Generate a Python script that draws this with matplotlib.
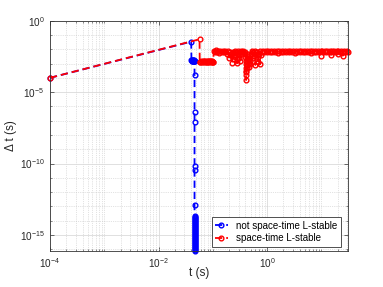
import matplotlib
matplotlib.use('Agg')
import matplotlib.pyplot as plt
from matplotlib.ticker import LogLocator, NullFormatter
import numpy as np

plt.rcParams['font.family'] = ['Liberation Sans', 'DejaVu Sans']
plt.rcParams['mathtext.default'] = 'regular'

# not space-time L-stable (blue)
blue_start_t = [1e-4, 0.0400]
blue_start_dt = [1e-4, 0.034]
blue_flat_t = [0.0405, 0.0410, 0.0415, 0.0420, 0.0425, 0.0430, 0.0435, 0.0440,
               0.0445, 0.0450, 0.0455, 0.0458, 0.0461]
blue_flat_dt = [1.7e-3, 1.5e-3, 1.65e-3, 1.55e-3, 1.7e-3, 1.5e-3, 1.6e-3, 1.7e-3,
                1.5e-3, 1.65e-3, 1.55e-3, 1.6e-3, 1.6e-3]
blue_drop_dt = [1.6e-4, 4.4e-7, 7.9e-8, 6.3e-11, 3.6e-11, 1.3e-13,
                2.0e-14, 1.7e-14, 1.45e-14, 1.25e-14, 1.05e-14, 9e-15, 7.7e-15, 6.5e-15,
                5.6e-15, 4.8e-15, 4.1e-15, 3.5e-15, 3.0e-15, 2.5e-15, 2.15e-15, 1.85e-15,
                1.6e-15, 1.35e-15, 1.15e-15, 9.8e-16, 8.4e-16, 7.2e-16, 6.1e-16, 5.2e-16,
                4.4e-16, 3.8e-16, 3.2e-16, 2.75e-16, 2.35e-16, 2.0e-16, 1.7e-16, 1.45e-16,
                1.25e-16, 1.05e-16, 9e-17, 8e-17]
blue_drop_t = [0.0461] * len(blue_drop_dt)

# space-time L-stable (red)
red_start_t = [1e-4, 0.057]
red_start_dt = [1e-4, 0.050]
red_flat_t = [0.0575, 0.059, 0.061, 0.063, 0.065, 0.067, 0.069, 0.071, 0.073, 0.075,
              0.077, 0.079, 0.081, 0.083, 0.085, 0.087, 0.089, 0.091, 0.093, 0.095,
              0.097, 0.099, 0.101]
red_flat_dt = [1.35e-3, 1.25e-3, 1.45e-3, 1.3e-3, 1.4e-3, 1.25e-3, 1.45e-3, 1.3e-3,
               1.4e-3, 1.25e-3, 1.45e-3, 1.3e-3, 1.4e-3, 1.25e-3, 1.45e-3, 1.3e-3,
               1.4e-3, 1.25e-3, 1.45e-3, 1.3e-3, 1.4e-3, 1.3e-3, 1.35e-3]
red_band1_t = [0.105, 0.110, 0.115, 0.120, 0.126, 0.132, 0.138, 0.145, 0.152, 0.159,
               0.166, 0.174, 0.182, 0.190, 0.199, 0.208, 0.217, 0.226, 0.230, 0.235,
               0.240, 0.246, 0.252, 0.260, 0.268, 0.275, 0.280, 0.286, 0.293, 0.300,
               0.307, 0.313, 0.320, 0.330, 0.340, 0.350, 0.360, 0.372, 0.385, 0.395]
red_band1_dt = [7.8e-3, 6.0e-3, 8.2e-3, 6.4e-3, 7.6e-3, 5.9e-3, 8.0e-3, 6.3e-3, 7.5e-3, 6.0e-3,
                7.9e-3, 6.2e-3, 5.0e-3, 7.4e-3, 2.6e-3, 6.5e-3, 4.5e-3, 1.05e-3, 3.5e-3, 2.0e-3,
                6.8e-3, 4.0e-3, 7.5e-3, 3.0e-3, 6.0e-3, 2.2e-3, 1.05e-3, 5.5e-3, 7.8e-3, 4.0e-3,
                2.5e-3, 1.6e-3, 6.2e-3, 7.6e-3, 5.0e-3, 6.8e-3, 7.9e-3, 5.6e-3, 6.9e-3, 4.5e-3]
red_dip_t = [0.400, 0.403, 0.405, 0.407, 0.409, 0.411, 0.413, 0.416, 0.420, 0.425,
             0.430, 0.436, 0.442, 0.450, 0.458, 0.466, 0.472, 0.478, 0.485, 0.492]
red_dip_dt = [3.0e-3, 1.6e-3, 9e-4, 5e-4, 2.6e-4, 7e-5, 1.6e-4, 3e-4, 5e-4, 8e-4,
              1.2e-3, 2e-3, 3.2e-3, 4.5e-3, 2.0e-3, 1.1e-3, 6e-4, 9e-4, 1.5e-3, 2.5e-3]
red_band2_t = [0.50, 0.52, 0.54, 0.56, 0.58, 0.60, 0.61, 0.63, 0.65, 0.67, 0.69, 0.71,
               0.73, 0.75, 0.77, 0.80, 0.84, 0.89, 0.94, 1.00, 1.06, 1.12, 1.19, 1.26,
               1.34, 1.42, 1.50, 1.59, 1.69, 1.79, 1.90, 2.01, 2.13, 2.26, 2.40, 2.54,
               2.69, 2.85, 3.02, 3.21, 3.40, 3.60, 3.82, 4.05, 4.29, 4.55, 4.82, 5.11,
               5.42, 5.74, 6.09, 6.45, 6.84, 7.25, 7.69, 8.15, 8.64, 9.15, 9.70, 9.90,
               10.3, 10.9, 11.6, 12.2, 13.0, 13.8, 14.6, 15.2, 15.5, 16.4, 17.4, 18.4,
               19.5, 20.0, 20.7, 21.9, 23.3, 24.7, 24.9, 26.2, 27.7, 29.4, 31.0]
red_band2_dt = [5.0e-3, 7.5e-3, 2.5e-3, 6.2e-3, 3.5e-3, 7.8e-3, 8e-4, 3.0e-3, 6.4e-3, 4.5e-3, 1.35e-3, 5.0e-3,
                7.0e-3, 9.3e-4, 4.0e-3, 6.0e-3, 7.8e-3, 6.1e-3, 7.6e-3, 6.0e-3, 7.9e-3, 6.3e-3, 7.5e-3, 6.0e-3,
                7.8e-3, 6.2e-3, 7.6e-3, 5.9e-3, 8.0e-3, 6.3e-3, 7.5e-3, 6.0e-3, 7.9e-3, 6.2e-3, 7.6e-3, 6.0e-3,
                7.8e-3, 6.3e-3, 7.5e-3, 5.9e-3, 8.0e-3, 6.2e-3, 7.6e-3, 6.0e-3, 7.9e-3, 6.3e-3, 7.5e-3, 6.0e-3,
                7.8e-3, 6.2e-3, 7.6e-3, 5.9e-3, 8.0e-3, 6.3e-3, 7.5e-3, 6.0e-3, 7.9e-3, 6.2e-3, 7.6e-3, 3.5e-3,
                7.8e-3, 6.0e-3, 7.5e-3, 6.3e-3, 7.9e-3, 6.1e-3, 7.6e-3, 4.0e-3, 7.8e-3, 6.0e-3, 7.5e-3, 6.3e-3,
                7.9e-3, 4.5e-3, 7.6e-3, 6.0e-3, 7.8e-3, 6.2e-3, 3.5e-3, 7.5e-3, 6.0e-3, 7.9e-3, 6.5e-3]

labels = ['not space-time L-stable', 'space-time L-stable']

blue_t = blue_start_t + blue_flat_t + blue_drop_t
blue_dt = blue_start_dt + blue_flat_dt + blue_drop_dt
red_t = red_start_t + red_flat_t + red_band1_t + red_dip_t + red_band2_t
red_dt = red_start_dt + red_flat_dt + red_band1_dt + red_dip_dt + red_band2_dt

fig = plt.figure(figsize=(3.83, 2.87), dpi=100)
ax = fig.add_axes([0.1305, 0.1265, 0.778, 0.8015])

style = dict(linestyle='--', dashes=(4, 2.2), linewidth=1.3, marker='o',
             markersize=3.4, markeredgewidth=1.0, markerfacecolor='none', clip_on=False)
ax.plot(blue_t, blue_dt, color='#0000ff', label=labels[0], **style)
ax.plot(red_t, red_dt, color='#ff0000', label=labels[1], **style)

ax.set_xscale('log')
ax.set_yscale('log')
ax.set_xlim(1e-4, 31)
ax.set_ylim(8e-17, 1)

ax.set_xticks([1e-4, 1e-2, 1])
ax.xaxis.set_minor_locator(LogLocator(base=10, subs=np.arange(1, 10), numticks=100))
ax.xaxis.set_minor_formatter(NullFormatter())
ax.set_yticks([1e-15, 1e-10, 1e-5, 1])
ax.yaxis.set_minor_locator(LogLocator(base=10, subs=(1.0,), numticks=100))
ax.yaxis.set_minor_formatter(NullFormatter())

ax.grid(True, which='major', color='0.86', linestyle='-', linewidth=0.6)
ax.grid(True, which='minor', color='0.78', linestyle=':', linewidth=0.5)
ax.set_axisbelow(True)

ax.tick_params(which='both', direction='in', top=True, right=True,
               colors='0.2', labelcolor='0.15', labelsize=7.2)
ax.tick_params(which='major', length=3, width=0.5, pad=4)
ax.tick_params(which='minor', length=1.5, width=0.4)
for s in ax.spines.values():
    s.set_color('0.2')
    s.set_linewidth(0.6)

ax.set_xlabel('t (s)', fontsize=8.5, color='0.15')
ax.set_ylabel('Δ t (s)', fontsize=8.5, color='0.15')
ax.xaxis.set_label_coords(0.5, -0.072)
ax.yaxis.set_label_coords(-0.11, 0.5)

leg = ax.legend(loc='lower right', bbox_to_anchor=(0.9765, 0.0174), borderaxespad=0,
                fontsize=7, fancybox=False, framealpha=1, edgecolor='0.2',
                handlelength=1.3, handletextpad=0.9, borderpad=0.35, labelspacing=0.25,
                numpoints=1)
leg.get_frame().set_linewidth(0.6)

plt.savefig('out.png', dpi=100)
